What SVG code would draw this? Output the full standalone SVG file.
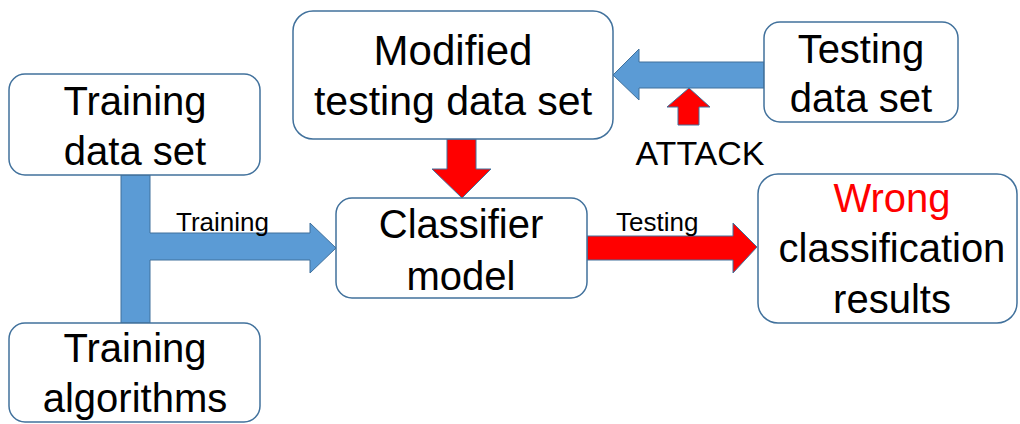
<svg xmlns="http://www.w3.org/2000/svg" width="1020" height="424" viewBox="0 0 1020 424">
<style>
.box{fill:#fff;stroke:#41719C;stroke-width:1.5}
.t{font-family:"Liberation Sans",Arial,sans-serif;font-size:40px;fill:#000;text-anchor:middle}
.lbl{font-family:"Liberation Sans",Arial,sans-serif;font-size:26px;fill:#000}
.blue{fill:#5B9BD5;stroke:#41719C;stroke-width:1}
.red{fill:#FF0000;stroke:#41719C;stroke-width:1}
</style>
<rect width="1020" height="424" fill="#fff"/>
<g id="connectors">
<polygon class="blue" points="121,175 150,175 150,233 310,233 310,223 336,248 310,273 310,260 150,260 150,323 121,323"/>
<polygon class="blue" points="764,62 639,62 639,49 613,75 639,100 639,88 764,88"/>
<polygon class="red" points="678,125 699,125 699,107 710,107 689,88 667,107 678,107"/>
<polygon class="red" points="447,139 476,139 476,169 491,169 462,198 432,169 447,169"/>
<polygon class="red" points="587,236 733,236 733,223 757,247 733,273 733,260 587,260"/>
<text class="lbl" x="176" y="231">Training</text>
<text class="lbl" x="616" y="231">Testing</text>
<text class="lbl" x="700" y="165" style="font-size:34px;text-anchor:middle">ATTACK</text>
</g>
<g id="training-data">
<rect class="box" x="9" y="74" width="251" height="101" rx="16"/>
<text class="t" x="135" y="115">Training</text>
<text class="t" x="135" y="165">data set</text>
</g>
<g id="training-algorithms">
<rect class="box" x="9" y="323" width="251" height="99" rx="16"/>
<text class="t" x="135" y="362">Training</text>
<text class="t" x="135" y="412">algorithms</text>
</g>
<g id="modified-testing">
<rect class="box" x="293" y="11" width="320" height="128" rx="20"/>
<text class="t" x="453" y="65" style="font-size:42px">Modified</text>
<text class="t" x="453" y="115" style="font-size:41px">testing data set</text>
</g>
<g id="testing-data">
<rect class="box" x="764" y="22" width="194" height="100" rx="16"/>
<text class="t" x="861" y="63">Testing</text>
<text class="t" x="861" y="112">data set</text>
</g>
<g id="classifier">
<rect class="box" x="336" y="198" width="251" height="100" rx="16"/>
<text class="t" x="461" y="238">Classifier</text>
<text class="t" x="461" y="290">model</text>
</g>
<g id="wrong-results">
<rect class="box" x="758" y="174" width="259" height="149" rx="20"/>
<text class="t" x="892" y="212" style="fill:#FF0000">Wrong</text>
<text class="t" x="892" y="262">classification</text>
<text class="t" x="892" y="313">results</text>
</g>
</svg>
